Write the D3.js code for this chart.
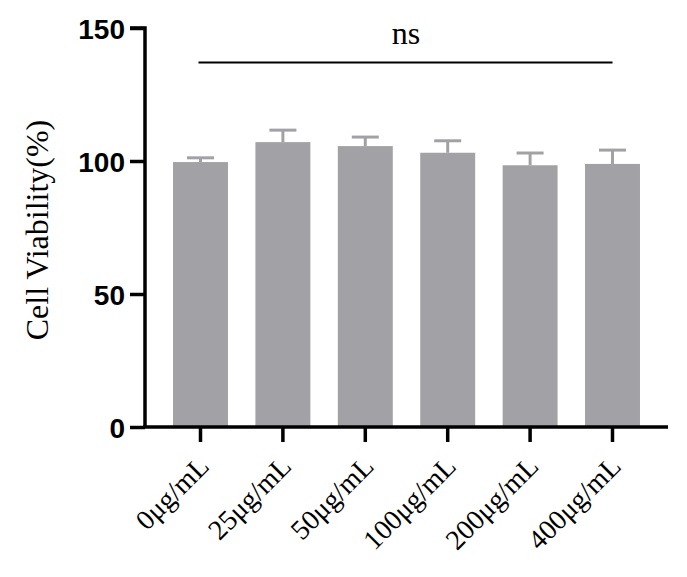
<!DOCTYPE html>
<html><head><meta charset="utf-8">
<script src="https://cdn.jsdelivr.net/npm/d3@7"></script>
<style>body{margin:0;background:#fff}</style>
</head><body>
<svg id="c" width="687" height="577"></svg>
<script>
const categories = ["0μg/mL","25μg/mL","50μg/mL","100μg/mL","200μg/mL","400μg/mL"];
const means = [99.6, 107.1, 105.6, 103.1, 98.4, 98.9];
const errs = [1.6, 4.5, 3.4, 4.5, 4.6, 5.2];
const yTicks = [0, 50, 100, 150];
const sigLabel = "ns";
const sigValue = 137;

const svg = d3.select("#c");
const x = d3.scaleBand().domain(categories).range([145, 668]).paddingInner(0.333).paddingOuter(0.34);
const y = d3.scaleLinear().domain([0, 150]).range([427, 28]);
const barColor = "#a2a1a6";

svg.selectAll("rect.bar").data(categories).join("rect")
  .attr("x", d => x(d)).attr("width", x.bandwidth())
  .attr("y", (d,i) => y(means[i])).attr("height", (d,i) => y(0) - y(means[i]))
  .attr("fill", barColor);

const eb = svg.append("g").attr("stroke", barColor).attr("stroke-width", 3);
categories.forEach((c,i) => {
  const cx = x(c) + x.bandwidth()/2;
  eb.append("line").attr("x1", cx).attr("x2", cx).attr("y1", y(means[i])).attr("y2", y(means[i]+errs[i]));
  eb.append("line").attr("x1", cx-13.5).attr("x2", cx+13.5).attr("y1", y(means[i]+errs[i])).attr("y2", y(means[i]+errs[i]));
});

const yAxis = svg.append("g").attr("transform","translate(145,0)")
  .call(d3.axisLeft(y).tickValues(yTicks).tickSize(15).tickPadding(5));
yAxis.select(".domain").attr("stroke-width",3.5).attr("d", `M-15,${y(150)}H0V${y(0)}`);
yAxis.selectAll(".tick line").attr("stroke-width",3.5);
yAxis.selectAll("text").attr("font-family","Liberation Sans, Arial, sans-serif").attr("font-weight","bold").attr("font-size",28).attr("fill","#000").attr("dy","0.36em");

const xAxis = svg.append("g").attr("transform",`translate(0,${y(0)})`)
  .call(d3.axisBottom(x).tickSize(15).tickSizeOuter(0).tickPadding(8));
xAxis.select(".domain").attr("stroke-width",3.5).attr("d", `M143.25,0H668`);
xAxis.selectAll(".tick line").attr("stroke-width",3.5);
xAxis.selectAll("text").attr("font-family","Liberation Serif, Times New Roman, serif").attr("font-size",28).attr("fill","#000")
  .attr("text-anchor","end").attr("x",0).attr("y",0).attr("dy",0).attr("transform","translate(10,41) rotate(-45)");

svg.append("line").attr("x1", x(categories[0]) + x.bandwidth()/2 - 2).attr("x2", x(categories[5]) + x.bandwidth()/2)
  .attr("y1", y(sigValue)).attr("y2", y(sigValue)).attr("stroke","#000").attr("stroke-width",2);
svg.append("text").attr("x", 406).attr("y", 44)
  .attr("text-anchor","middle").attr("font-family","Liberation Serif, Times New Roman, serif").attr("font-size",32).text(sigLabel);

svg.append("text").attr("transform", "translate(48,230) rotate(-90)").attr("text-anchor","middle")
  .attr("font-family","Liberation Serif, Times New Roman, serif").attr("font-size",32).text("Cell Viability(%)");
</script>
</body></html>
